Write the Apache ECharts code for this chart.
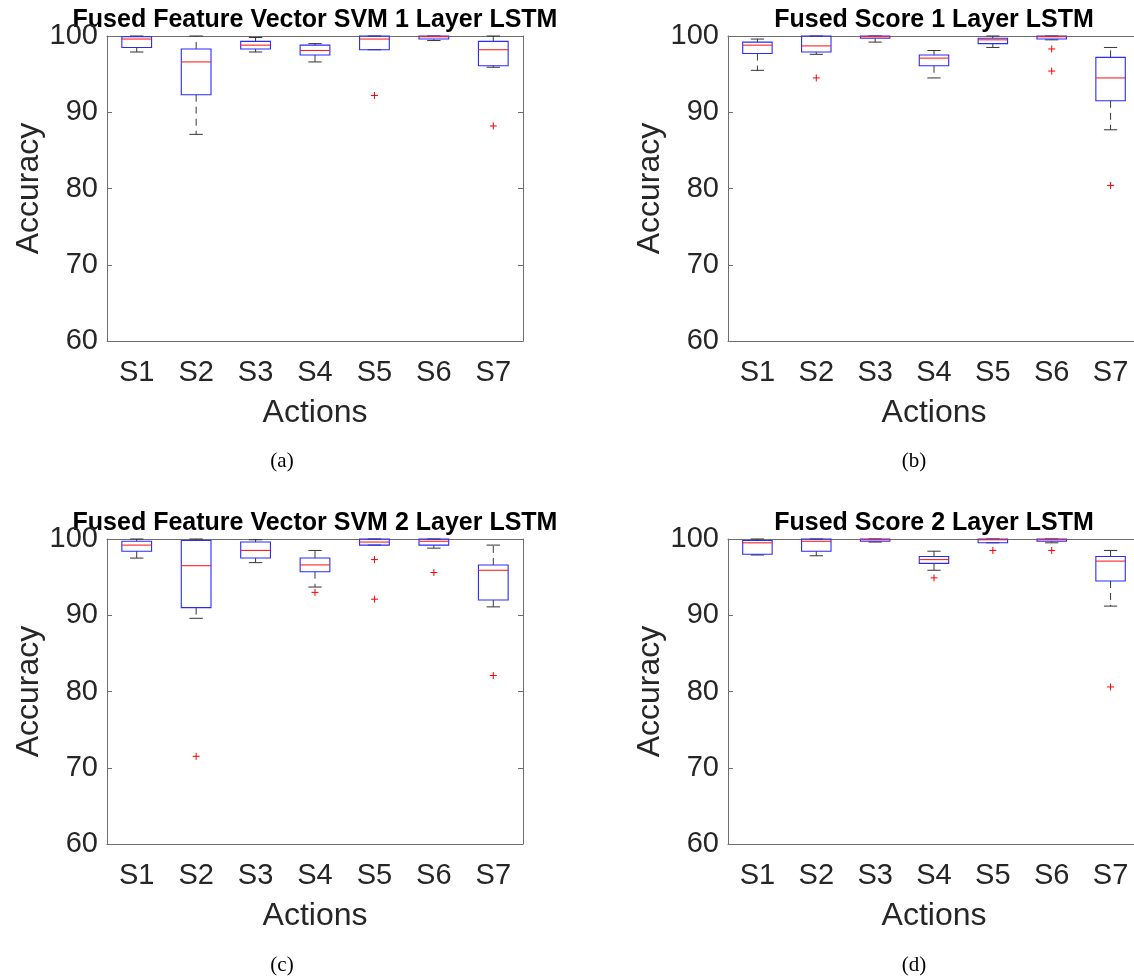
<!DOCTYPE html>
<html><head><meta charset="utf-8">
<script src="https://cdn.jsdelivr.net/npm/echarts@6/dist/echarts.min.js"></script>
<style>html,body{margin:0;padding:0;background:#fff}#c{width:1134px;height:977px}</style>
</head><body><div id="c"></div>
<script>
const categories = ['S1', 'S2', 'S3', 'S4', 'S5', 'S6', 'S7'];
const yTicks = [60, 70, 80, 90, 100];
const panelTitles = ['Fused Feature Vector SVM 1 Layer LSTM', 'Fused Score 1 Layer LSTM',
  'Fused Feature Vector SVM 2 Layer LSTM', 'Fused Score 2 Layer LSTM'];
const captions = ['(a)', '(b)', '(c)', '(d)'];
const yAxisName = 'Accuracy';
const xAxisName = 'Actions';

// Each row: [lower whisker, Q1, median, Q3, upper whisker] for S1..S7
const boxesA = [
  [97.9, 98.5, 99.6, 99.9, 100], [87.1, 92.3, 96.6, 98.3, 100], [97.9, 98.3, 98.8, 99.3, 99.8],
  [96.6, 97.5, 98.1, 98.8, 99.0], [98.2, 98.2, 99.6, 100, 100], [99.4, 99.6, 99.9, 100, 100],
  [95.9, 96.1, 98.2, 99.3, 100]
];
const outliersA = [['S5', 92.2], ['S7', 88.2]];

const boxesB = [
  [95.5, 97.7, 98.8, 99.2, 99.6], [97.6, 97.9, 98.7, 100, 100], [99.2, 99.7, 99.9, 100, 100],
  [94.5, 96.1, 97.1, 97.5, 98.1], [98.5, 99.0, 99.5, 99.7, 100], [99.5, 99.6, 99.9, 100, 100],
  [87.7, 91.5, 94.5, 97.2, 98.5]
];
const outliersB = [['S2', 94.5], ['S6', 98.3], ['S6', 95.4], ['S7', 80.4]];

const boxesC = [
  [97.5, 98.4, 99.2, 99.7, 100], [89.6, 91.0, 96.5, 99.8, 100], [96.9, 97.5, 98.5, 99.6, 99.9],
  [93.7, 95.7, 96.6, 97.5, 98.5], [99.2, 99.2, 99.6, 100, 100], [98.8, 99.2, 99.7, 100, 100],
  [91.1, 92.0, 95.9, 96.6, 99.2]
];
const outliersC = [['S2', 71.5], ['S4', 93.0], ['S5', 97.3], ['S5', 92.1], ['S6', 95.6], ['S7', 82.1]];

const boxesD = [
  [97.9, 98.0, 99.5, 99.8, 100], [97.8, 98.4, 99.7, 100, 100], [99.6, 99.7, 99.9, 100, 100],
  [95.9, 96.8, 97.3, 97.7, 98.4], [99.5, 99.5, 99.9, 100, 100], [99.5, 99.7, 99.9, 100, 100],
  [91.2, 94.5, 97.1, 97.7, 98.5]
];
const outliersD = [['S4', 94.9], ['S5', 98.5], ['S6', 98.5], ['S7', 80.6]];

const panelBoxes = [boxesA, boxesB, boxesC, boxesD];
const panelOutliers = [outliersA, outliersB, outliersC, outliersD];

// layout
const grids = [
  {left: 107, top: 36, width: 416, height: 305},
  {left: 728, top: 36, width: 412, height: 305},
  {left: 107, top: 539, width: 416, height: 305},
  {left: 728, top: 539, width: 412, height: 305}
];
const captionPos = [[282, 451], [914, 451], [282, 955], [914, 955]];
const FONT = '"Liberation Sans", Arial, Helvetica, sans-serif';
const AXIS_COLOR = '#6e6e6e';
const TEXT_COLOR = '#262626';

function renderBox(params, api) {
  const x = api.value(0);
  const lo = api.coord([x, api.value(1)]);
  const q1 = api.coord([x, api.value(2)]);
  const md = api.coord([x, api.value(3)]);
  const q3 = api.coord([x, api.value(4)]);
  const hi = api.coord([x, api.value(5)]);
  const bw = api.size([1, 0])[0] * 0.5;
  const cw = bw * 0.45;
  const cx = md[0];
  const dashStyle = {stroke: '#222', lineWidth: 0.9, lineDash: [7, 5]};
  const capStyle = {stroke: '#333', lineWidth: 1};
  return {
    type: 'group',
    children: [
      {type: 'line', shape: {x1: cx, y1: q3[1], x2: cx, y2: hi[1]}, style: dashStyle},
      {type: 'line', shape: {x1: cx, y1: q1[1], x2: cx, y2: lo[1]}, style: dashStyle},
      {type: 'line', shape: {x1: cx - cw / 2, y1: hi[1], x2: cx + cw / 2, y2: hi[1]}, style: capStyle},
      {type: 'line', shape: {x1: cx - cw / 2, y1: lo[1], x2: cx + cw / 2, y2: lo[1]}, style: capStyle},
      {type: 'rect', shape: {x: cx - bw / 2, y: q3[1], width: bw, height: Math.max(q1[1] - q3[1], 0.5)},
        style: {fill: 'none', stroke: '#2a2aff', lineWidth: 1.1}},
      {type: 'line', shape: {x1: cx - bw / 2, y1: md[1], x2: cx + bw / 2, y2: md[1]},
        style: {stroke: '#ff2020', lineWidth: 1.1}}
    ]
  };
}

function renderOutlier(params, api) {
  const p = api.coord([api.value(0), api.value(1)]);
  const a = 3.5;
  return {
    type: 'group',
    children: [
      {type: 'line', shape: {x1: p[0] - a, y1: p[1], x2: p[0] + a, y2: p[1]}, style: {stroke: '#ff0000', lineWidth: 1}},
      {type: 'line', shape: {x1: p[0], y1: p[1] - a, x2: p[0], y2: p[1] + a}, style: {stroke: '#ff0000', lineWidth: 1}}
    ]
  };
}

const xAxes = [], yAxes = [], series = [], graphics = [];
grids.forEach((g, i) => {
  xAxes.push({
    type: 'category', gridIndex: i, data: categories, position: 'bottom',
    axisLine: {lineStyle: {color: AXIS_COLOR, width: 1}},
    axisTick: {inside: true, alignWithLabel: true, length: 5, lineStyle: {color: AXIS_COLOR}},
    axisLabel: {fontSize: 29, color: TEXT_COLOR, fontFamily: FONT, margin: 17},
    name: xAxisName, nameLocation: 'middle', nameGap: 56,
    nameTextStyle: {fontSize: 32, color: TEXT_COLOR, fontFamily: FONT},
    splitLine: {show: false}
  });
  xAxes.push({
    type: 'category', gridIndex: i, data: categories, position: 'top',
    axisLine: {lineStyle: {color: AXIS_COLOR, width: 1}},
    axisTick: {inside: true, alignWithLabel: true, length: 5, lineStyle: {color: AXIS_COLOR}},
    axisLabel: {show: false}, splitLine: {show: false}
  });
  yAxes.push({
    type: 'value', gridIndex: i, min: yTicks[0], max: yTicks[yTicks.length - 1], interval: 10,
    position: 'left',
    axisLine: {show: true, lineStyle: {color: AXIS_COLOR, width: 1}},
    axisTick: {show: true, inside: true, length: 5, lineStyle: {color: AXIS_COLOR}},
    axisLabel: {fontSize: 29, color: TEXT_COLOR, fontFamily: FONT, margin: 9},
    name: yAxisName, nameLocation: 'middle', nameGap: 62,
    nameTextStyle: {fontSize: 32, color: TEXT_COLOR, fontFamily: FONT},
    splitLine: {show: false}
  });
  yAxes.push({
    type: 'value', gridIndex: i, min: yTicks[0], max: yTicks[yTicks.length - 1], interval: 10,
    position: 'right',
    axisLine: {show: true, lineStyle: {color: AXIS_COLOR, width: 1}},
    axisTick: {show: true, inside: true, length: 5, lineStyle: {color: AXIS_COLOR}},
    axisLabel: {show: false}, splitLine: {show: false}
  });
  series.push({
    type: 'custom', xAxisIndex: 2 * i, yAxisIndex: 2 * i, renderItem: renderBox,
    encode: {x: 0, y: [1, 2, 3, 4, 5]},
    data: panelBoxes[i].map((b, k) => [k].concat(b)), z: 5, silent: true
  });
  series.push({
    type: 'custom', xAxisIndex: 2 * i, yAxisIndex: 2 * i, renderItem: renderOutlier,
    encode: {x: 0, y: 1},
    data: panelOutliers[i].map(o => [categories.indexOf(o[0]), o[1]]), z: 6, silent: true
  });
  graphics.push({
    type: 'text', x: g.left + g.width / 2, y: g.top - 28,
    style: {text: panelTitles[i], fontSize: 25, fontWeight: 'bold', fontFamily: FONT, fill: '#000',
      textAlign: 'center', textVerticalAlign: 'top'}
  });
  graphics.push({
    type: 'text', x: captionPos[i][0], y: captionPos[i][1],
    style: {text: captions[i], fontSize: 21, fontFamily: '"Liberation Serif", "Times New Roman", serif', fill: '#000',
      textAlign: 'center', textVerticalAlign: 'top'}
  });
});

const chart = echarts.init(document.getElementById('c'), null, {renderer: 'canvas'});
chart.setOption({
  backgroundColor: '#fff',
  animation: false,
  grid: grids.map(g => Object.assign({containLabel: false, outerBoundsMode: 'none'}, g)),
  xAxis: xAxes,
  yAxis: yAxes,
  series: series,
  graphic: graphics
});
</script>
</body></html>
